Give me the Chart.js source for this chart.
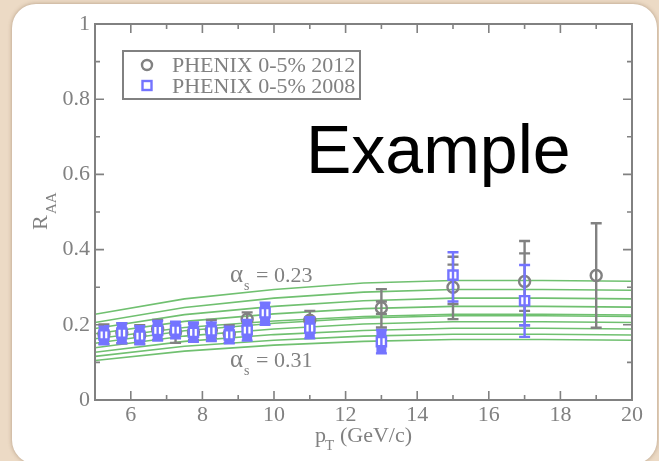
<!DOCTYPE html>
<html>
<head>
<meta charset="utf-8">
<script src="https://cdn.jsdelivr.net/npm/chart.js@4.4.0/dist/chart.umd.min.js"></script>
<style>
  html, body { margin: 0; padding: 0; }
  body { width: 659px; height: 461px; background: #ecdac5; position: relative; overflow: hidden; }
  #card { position: absolute; left: 12px; top: 4px; width: 645px; height: 460px; background: #fff;
          border-radius: 24px; box-shadow: 0 0 4px rgba(110, 80, 50, 0.45); }
  #wrap { position: absolute; left: 0; top: 0; width: 659px; height: 461px; }
</style>
</head>
<body>
<div id="card"></div>
<div id="wrap"><canvas id="raaChart" width="659" height="461"></canvas></div>
<script>
// theory curves, alpha_s = 0.23 (top) down to 0.31 (bottom)
var ptTheory = [5, 7.5, 10, 12.5, 15, 17.5, 20];
var curve1  = [0.228, 0.269, 0.294, 0.311, 0.318, 0.318, 0.316];
var curve2  = [0.206, 0.246, 0.271, 0.287, 0.294, 0.294, 0.292];
var curve3  = [0.190, 0.227, 0.249, 0.264, 0.271, 0.271, 0.269];
var curve4  = [0.176, 0.209, 0.229, 0.243, 0.249, 0.249, 0.247];
var curve5  = [0.163, 0.193, 0.210, 0.222, 0.228, 0.228, 0.226];
var curve6  = [0.151, 0.184, 0.204, 0.218, 0.224, 0.224, 0.222];
var curve7  = [0.139, 0.170, 0.189, 0.202, 0.208, 0.208, 0.206];
var curve8  = [0.127, 0.156, 0.174, 0.185, 0.191, 0.191, 0.189];
var curve9  = [0.116, 0.143, 0.159, 0.170, 0.175, 0.175, 0.173];
var curve10 = [0.105, 0.130, 0.146, 0.156, 0.161, 0.161, 0.159];
var curves = [curve1, curve2, curve3, curve4, curve5, curve6, curve7, curve8, curve9, curve10];

// PHENIX 0-5% 2012
var pt2012    = [5.25, 5.75, 6.25, 6.75, 7.25, 7.75, 8.25, 8.75, 9.25, 11, 13, 15, 17, 19];
var raa2012   = [0.175, 0.179, 0.173, 0.188, 0.181, 0.181, 0.186, 0.175, 0.215, 0.212, 0.245, 0.300, 0.315, 0.331];
var hi2012    = [0.201, 0.204, 0.199, 0.213, 0.207, 0.203, 0.213, 0.199, 0.233, 0.237, 0.295, 0.381, 0.423, 0.470];
var lo2012    = [0.150, 0.151, 0.150, 0.160, 0.152, 0.160, 0.166, 0.152, 0.195, 0.188, 0.193, 0.215, 0.199, 0.192];
var inHi2012  = [null, null, null, null, null, null, null, null, null, null, 0.262, 0.360, 0.390, null];
var inLo2012  = [null, null, null, null, null, null, null, null, null, null, 0.229, 0.255, 0.237, null];

// PHENIX 0-5% 2008
var pt2008    = [5.25, 5.75, 6.25, 6.75, 7.25, 7.75, 8.25, 8.75, 9.25, 9.75, 11, 13, 15, 17];
var raa2008   = [0.173, 0.178, 0.170, 0.185, 0.186, 0.180, 0.184, 0.173, 0.186, 0.232, 0.191, 0.155, 0.332, 0.264];
var hi2008    = [0.196, 0.204, 0.196, 0.210, 0.208, 0.206, 0.206, 0.195, 0.213, 0.259, 0.220, 0.186, 0.393, 0.359];
var lo2008    = [0.148, 0.151, 0.148, 0.158, 0.164, 0.155, 0.157, 0.151, 0.158, 0.200, 0.164, 0.124, 0.262, 0.168];
var sysHi2008 = [0.196, 0.204, 0.196, 0.210, 0.208, 0.206, 0.206, 0.195, 0.213, 0.259, 0.220, 0.186, null, null];
var sysLo2008 = [0.148, 0.151, 0.148, 0.158, 0.164, 0.155, 0.157, 0.151, 0.158, 0.200, 0.164, 0.124, null, null];
var inHi2008  = [null, null, null, null, null, null, null, null, null, null, null, null, null, null];
var inLo2008  = [null, null, null, null, null, null, null, null, null, null, null, null, null, 0.199];

var xTickValues = [6, 8, 10, 12, 14, 16, 18, 20];
var xMinorTicks = [7, 9, 11, 13, 15, 17, 19];
var yTickValues = [0, 0.2, 0.4, 0.6, 0.8, 1];
var yMinorTicks = [0.1, 0.3, 0.5, 0.7, 0.9];

var GRAY  = '#818181';
var BLUE  = '#7474ff';
var GREEN = '#70c070';
var SERIF = '"Liberation Serif", "Times New Roman", serif';

function points(xs, ys) {
    return xs.map(function(x, i) { return { x: x, y: ys[i] }; });
}

var datasets = [];
curves.forEach(function(c) {
    datasets.push({
        type: 'line',
        data: points(ptTheory, c),
        borderColor: GREEN,
        borderWidth: 1.6,
        pointRadius: 0,
        tension: 0,
        fill: false,
        order: 2
    });
});
datasets.push({
    type: 'scatter',
    label: 'PHENIX 0-5% 2012',
    data: points(pt2012, raa2012),
    pointStyle: 'circle',
    pointRadius: 5.5,
    borderWidth: 2.4,
    borderColor: GRAY,
    backgroundColor: 'rgba(0,0,0,0)',
    errHi: hi2012, errLo: lo2012, inHi: inHi2012, inLo: inLo2012,
    order: 1
});
datasets.push({
    type: 'scatter',
    label: 'PHENIX 0-5% 2008',
    data: points(pt2008, raa2008),
    pointStyle: 'rect',
    pointRadius: 6.5,
    borderWidth: 2.4,
    borderColor: BLUE,
    backgroundColor: '#ffffff',
    errHi: hi2008, errLo: lo2008, inHi: inHi2008, inLo: inLo2008,
    sysHi: sysHi2008, sysLo: sysLo2008,
    order: 0
});

// systematic boxes under the markers, error bars and caps on top
var errorBars = {
    id: 'errorBars',
    beforeDatasetDraw: function(chart, args) {
        var ds = chart.data.datasets[args.index];
        if (!ds.sysHi) return;
        var xs = chart.scales.x, ys = chart.scales.y, ctx = chart.ctx;
        ctx.save();
        ctx.fillStyle = ds.borderColor;
        ds.data.forEach(function(p, i) {
            if (ds.sysHi[i] == null) return;
            var px = xs.getPixelForValue(p.x);
            var top = ys.getPixelForValue(ds.sysHi[i]);
            var bot = ys.getPixelForValue(ds.sysLo[i]);
            ctx.fillRect(px - 5, top, 10, bot - top);
        });
        ctx.restore();
    },
    afterDatasetDraw: function(chart, args) {
        var ds = chart.data.datasets[args.index];
        if (!ds.errHi) return;
        var xs = chart.scales.x, ys = chart.scales.y, ctx = chart.ctx;
        ctx.save();
        ctx.strokeStyle = ds.borderColor;
        ctx.lineWidth = 2.4;
        ds.data.forEach(function(p, i) {
            var px = xs.getPixelForValue(p.x);
            var top = ys.getPixelForValue(ds.errHi[i]);
            var bot = ys.getPixelForValue(ds.errLo[i]);
            ctx.beginPath();
            ctx.moveTo(px, top); ctx.lineTo(px, bot);
            var caps = [top, bot];
            if (ds.inHi[i] != null) caps.push(ys.getPixelForValue(ds.inHi[i]));
            if (ds.inLo[i] != null) caps.push(ys.getPixelForValue(ds.inLo[i]));
            caps.forEach(function(cy) {
                ctx.moveTo(px - 5.5, cy); ctx.lineTo(px + 5.5, cy);
            });
            ctx.stroke();
        });
        ctx.restore();
    }
};

// box around the plot with inward ticks on all four sides
var frame = {
    id: 'frame',
    afterDatasetsDraw: function(chart) {
        var ctx = chart.ctx, a = chart.chartArea, xs = chart.scales.x, ys = chart.scales.y;
        ctx.save();
        ctx.strokeStyle = GRAY;
        ctx.lineWidth = 2;
        ctx.strokeRect(a.left, a.top, a.right - a.left, a.bottom - a.top);
        ctx.lineWidth = 1.6;
        ctx.beginPath();
        function xTick(v, len) {
            var px = xs.getPixelForValue(v);
            ctx.moveTo(px, a.bottom); ctx.lineTo(px, a.bottom - len);
            ctx.moveTo(px, a.top); ctx.lineTo(px, a.top + len);
        }
        function yTick(v, len) {
            var py = ys.getPixelForValue(v);
            ctx.moveTo(a.left, py); ctx.lineTo(a.left + len, py);
            ctx.moveTo(a.right, py); ctx.lineTo(a.right - len, py);
        }
        xTickValues.forEach(function(v) { xTick(v, 9); });
        xMinorTicks.forEach(function(v) { xTick(v, 5); });
        yTickValues.forEach(function(v) { yTick(v, 9); });
        yMinorTicks.forEach(function(v) { yTick(v, 5); });
        ctx.stroke();
        ctx.restore();
    }
};

// axis titles, alpha_s labels, legend and the big caption
var decorations = {
    id: 'decorations',
    afterDraw: function(chart) {
        var ctx = chart.ctx;
        ctx.save();
        ctx.fillStyle = GRAY;
        ctx.textAlign = 'left';
        ctx.textBaseline = 'alphabetic';

        // R_AA
        ctx.save();
        ctx.translate(47, 230);
        ctx.rotate(-Math.PI / 2);
        ctx.font = '22px ' + SERIF;
        ctx.fillText('R', 0, 0);
        ctx.font = '15px ' + SERIF;
        ctx.fillText('AA', 16, 9);
        ctx.restore();

        // p_T (GeV/c)
        ctx.font = '22px ' + SERIF;
        ctx.fillText('p', 315, 442);
        ctx.font = '15px ' + SERIF;
        ctx.fillText('T', 325, 450);
        ctx.font = '22px ' + SERIF;
        ctx.fillText('(GeV/c)', 340, 442);

        // alpha_s labels
        function alphaLabel(txt, base) {
            ctx.font = '25px ' + SERIF;
            ctx.fillText('\u03b1', 230, base);
            ctx.font = '14px ' + SERIF;
            ctx.fillText('s', 244, base + 8);
            ctx.font = '22px ' + SERIF;
            ctx.fillText(txt, 256, base);
        }
        alphaLabel('= 0.23', 282);
        alphaLabel('= 0.31', 367);

        // legend
        ctx.strokeStyle = GRAY;
        ctx.lineWidth = 2;
        ctx.strokeRect(123, 51, 237, 48);
        ctx.lineWidth = 2.4;
        ctx.beginPath();
        ctx.arc(147, 65, 5, 0, Math.PI * 2);
        ctx.stroke();
        ctx.strokeStyle = BLUE;
        ctx.strokeRect(142.5, 81, 9, 9);
        ctx.font = '22px ' + SERIF;
        ctx.fillText(chart.data.datasets[10].label, 172, 72);
        ctx.fillText(chart.data.datasets[11].label, 172, 93);

        // caption
        ctx.fillStyle = '#000';
        ctx.font = '68px "Liberation Sans", Arial, sans-serif';
        ctx.fillText('Example', 306, 173);
        ctx.restore();
    }
};

var ctx = document.getElementById('raaChart');
var raaChart = new Chart(ctx, {
    type: 'scatter',
    data: { datasets: datasets },
    options: {
        responsive: false,
        animation: false,
        devicePixelRatio: 1,
        layout: { padding: { left: 0, top: 24, right: 27, bottom: 0 } },
        plugins: { legend: { display: false }, tooltip: { enabled: false } },
        scales: {
            x: {
                type: 'linear',
                min: 5, max: 20,
                grid: { display: false, drawTicks: false },
                border: { display: false },
                afterBuildTicks: function(s) {
                    s.ticks = xTickValues.map(function(v) { return { value: v }; });
                },
                afterFit: function(s) { s.height = 61; },
                ticks: {
                    color: GRAY,
                    padding: 2,
                    maxRotation: 0,
                    autoSkip: false,
                    font: { family: SERIF, size: 22 }
                }
            },
            y: {
                type: 'linear',
                min: 0, max: 1,
                grid: { display: false, drawTicks: false },
                border: { display: false },
                afterBuildTicks: function(s) {
                    s.ticks = yTickValues.map(function(v) { return { value: v }; });
                },
                afterFit: function(s) { s.width = 95; },
                ticks: {
                    color: GRAY,
                    padding: 5,
                    autoSkip: false,
                    font: { family: SERIF, size: 22 },
                    callback: function(v) {
                        return (v === 0 || v === 1) ? String(v) : v.toFixed(1);
                    }
                }
            }
        }
    },
    plugins: [errorBars, frame, decorations]
});
</script>
</body>
</html>
